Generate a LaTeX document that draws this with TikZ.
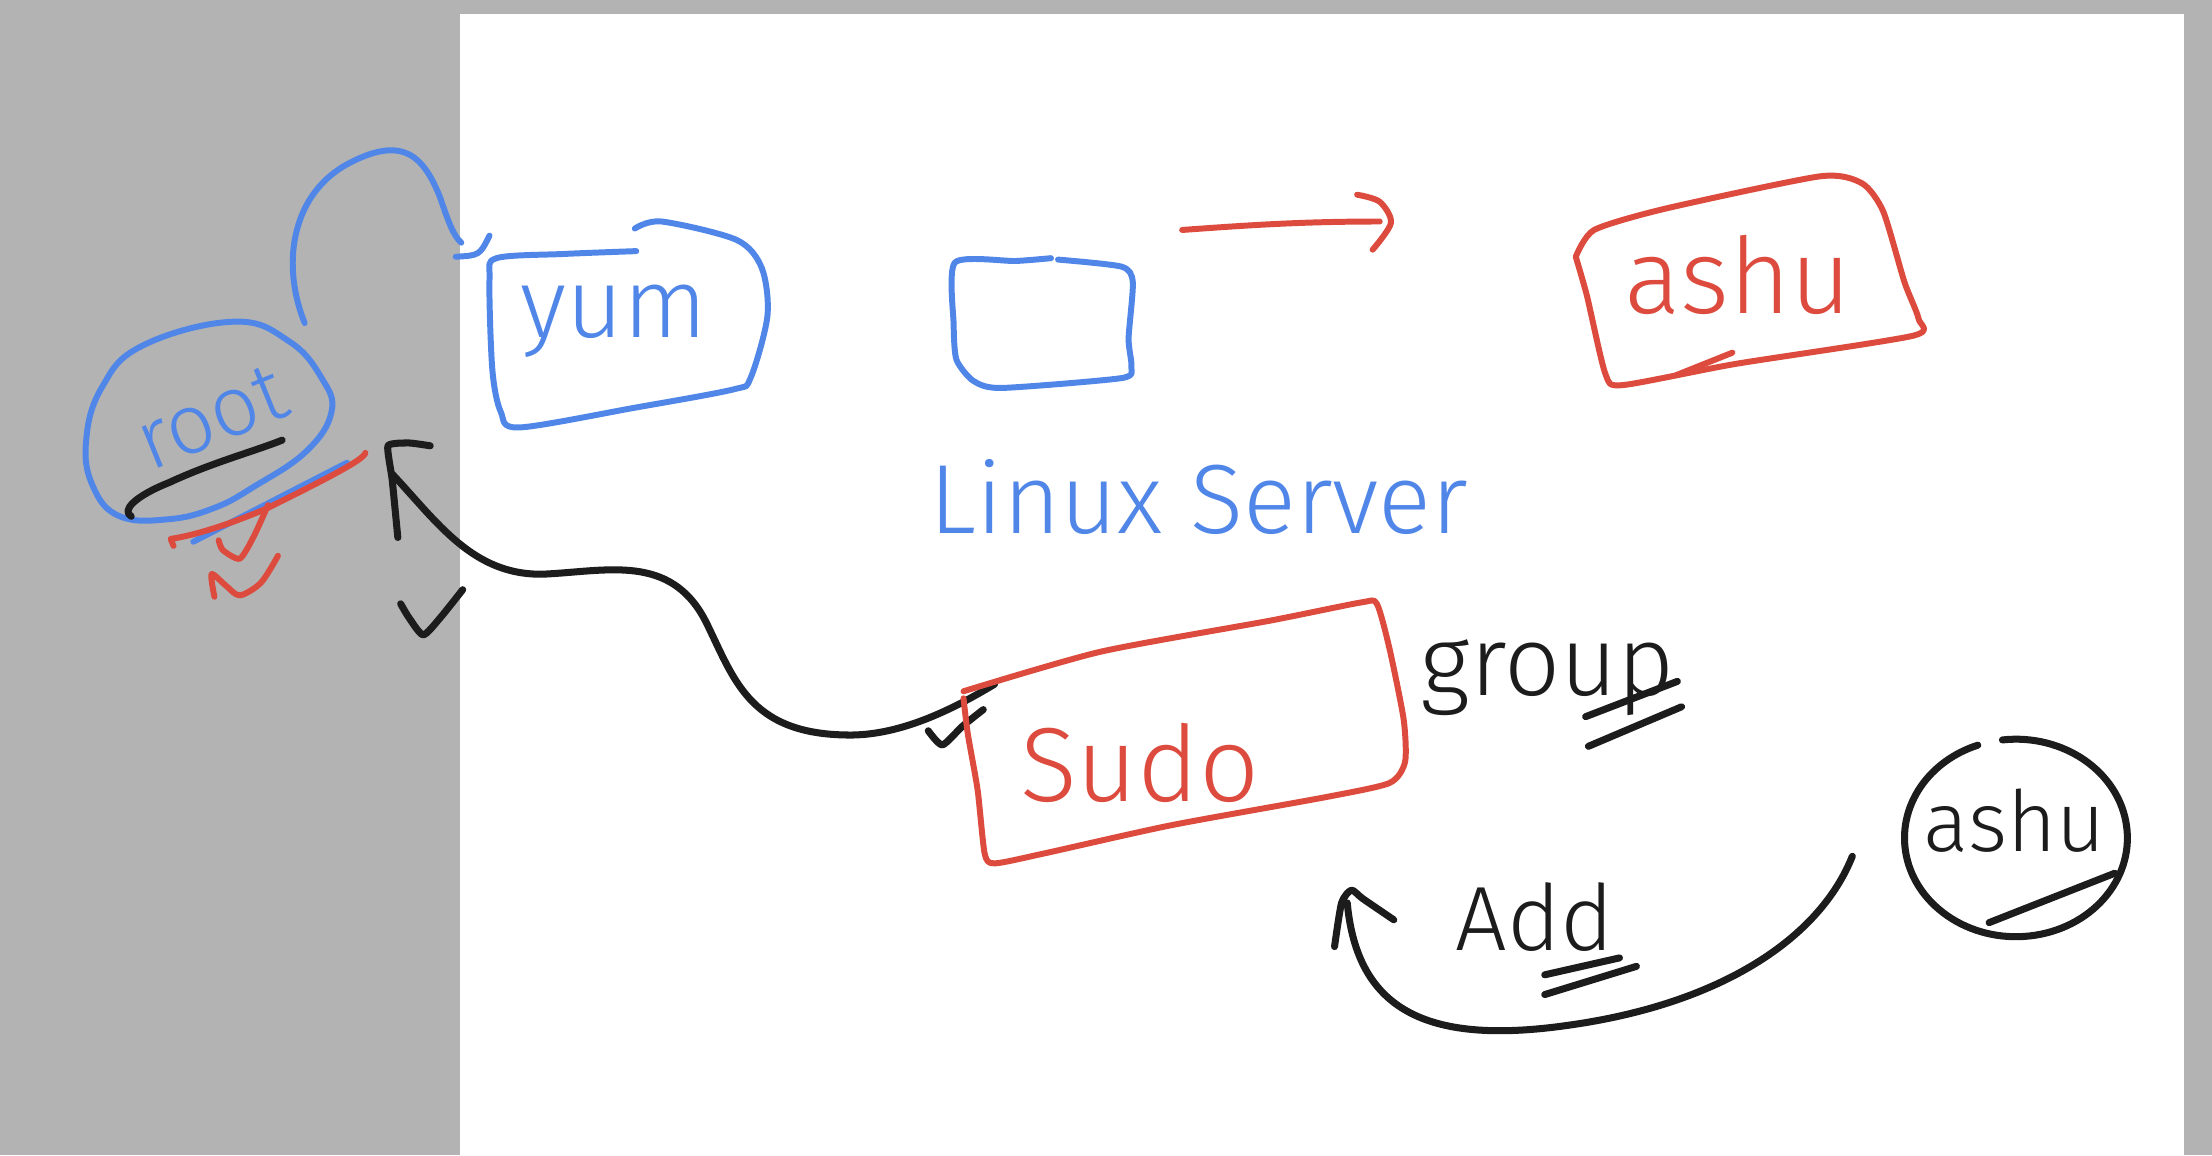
\documentclass[tikz,border=0pt]{standalone}
\usepackage{fontspec}
\setmainfont{Fira Sans}[UprightFont = * Light]
\definecolor{bggray}{HTML}{B3B3B3}
\definecolor{inkblue}{HTML}{5086E8}
\definecolor{inkred}{HTML}{DD4B3E}
\definecolor{inkblack}{HTML}{1C1C1C}
\tikzset{
  blueink/.style={draw=inkblue, line width=1.7pt, line cap=round, line join=round},
  redink/.style={draw=inkred, line width=1.7pt, line cap=round, line join=round},
  blackink/.style={draw=inkblack, line width=2pt, line cap=round, line join=round},
  hand/.style={inner sep=0pt, font=\fontsize{#1}{#1}\selectfont},
}
\begin{document}
\begin{tikzpicture}[x=0.014107cm,y=-0.014107cm]
\useasboundingbox (0,0) rectangle (1568,819);
\fill[bggray] (0,0) rectangle (1568,819);
\fill[white] (326,10) rectangle (1548,819);

% root circle
\draw[blueink] plot[smooth cycle, tension=0.7] coordinates {(101,245) (166,228) (205,242) (228,268) (235,292) (217,320) (180,345) (152,360) (120,368) (85,366) (66,345) (61,313) (72,275)};
\node[hand=24, text=inkblue, rotate=22] (root) at (150,296) {root};
\draw[blueink] (216,229) .. controls (200,190) and (205,140) .. (245,117) .. controls (285,95) and (300,110) .. (312,140) .. controls (318,158) and (322,168) .. (327,172);
\draw[blueink] (323,182) .. controls (340,181) .. (347,167);
\draw[blackink] (93,366) .. controls (86,362) and (95,352) .. (120,342) .. controls (150,328) and (180,320) .. (200,312);
\draw[blueink] (246,328) -- (137,384);
\draw[redink] (259,321) .. controls (258,326) and (230,340) .. (190,360) .. controls (160,373) and (135,380) .. (121,382) -- (123,387);
\draw[redink] plot[smooth, tension=0.4] coordinates {(155,383) (158,390) (170,396) (180,380) (190,358)};
\draw[redink] plot[smooth, tension=0.5] coordinates {(152,423) (150,407) (160,415) (170,422) (185,413) (197,394)};

% black marks near root
\draw[blackink] plot[smooth, tension=0.3] coordinates {(282,381) (278,340) (275,316) (290,314) (305,316)};
\draw[blackink] plot[smooth, tension=0.4] coordinates {(284,428) (290,438) (300,450) (312,438) (328,418)};
\coordinate (rootend) at (278,336);
\coordinate (sudoend) at (705,485);
\draw[blackink] (rootend) .. controls (310,370) and (335,408) .. (385,407) .. controls (430,405) and (475,392) .. (500,440) .. controls (520,480) and (530,520) .. (600,521) .. controls (640,522) and (680,500) .. (sudoend);
\draw[blackink] plot[smooth, tension=0.4] coordinates {(658,518) (668,528) (682,515) (697,503)};

% yum box
\draw[blueink] plot[smooth, tension=0.5] coordinates {(451,178) (400,180) (352,183) (347,198) (349,262) (355,292) (368,303) (450,289) (520,276) (532,268) (544,224) (540,190) (522,170) (469,157) (450,162)};
\node[hand=28, text=inkblue] (yum) at (435,228) {yum};

% middle blue box
\draw[blueink] plot[smooth, tension=0.4] coordinates {(745,183) (720,185) (677,186) (676,230) (678,255) (690,270) (710,275) (795,268) (802,260) (800,240) (803,200) (795,189) (750,184)};
\node[hand=28, text=inkblue] (linux) at (850,352) {Linux Server};

% red arrow
\coordinate (ra) at (838,163);
\coordinate (rb) at (978,157);
\draw[redink] (ra) .. controls (880,160) and (920,157) .. (rb);
\draw[redink] plot[smooth, tension=0.5] coordinates {(962,138) (978,143) (986,158) (973,177)};

% ashu red box
\draw[redink] plot[smooth, tension=0.4] coordinates {(1117,182) (1130,163) (1180,148) (1290,125) (1320,130) (1335,150) (1350,200) (1360,226) (1356,238) (1230,258) (1150,273) (1138,265) (1125,210) (1117,182)};
\draw[redink] (1188,266) -- (1228,250);
\node[hand=30, text=inkred] (ashured) at (1232,195) {ashu};

% sudo box
\draw[redink] plot[smooth, tension=0.4] coordinates {(683,490) (780,462) (900,440) (965,427) (976,428) (985,460) (995,510) (996,540) (985,555) (940,565) (830,585) (740,605) (705,612) (698,605) (693,560) (686,520) (683,495)};
\node[hand=30, text=inkred] (sudo) at (808,541) {Sudo};

% group
\node[hand=28, text=inkblack] (group) at (1097,480) {group};
\draw[blackink] (1124,508) -- (1189,483);
\draw[blackink] (1126,529) -- (1192,501);

% Add
\node[hand=26, text=inkblack] (add) at (1088,650) {Add};
\draw[blackink] (1095,691) -- (1148,679);
\draw[blackink] (1095,705) -- (1160,685);

% ashu black circle
\draw[blackink] (1419.4,524.5) arc[start angle=-97, end angle=250, x radius=79, y radius=70];
\draw[blackink] (1410,654) -- (1499,619);
\node[hand=24, text=inkblack] (ashublack) at (1428,582) {ashu};

% big black arrow
\coordinate (ba) at (1313,607);
\coordinate (bb) at (955,640);
\draw[blackink] (ba) .. controls (1290,665) and (1220,712) .. (1110,727) .. controls (1010,741) and (962,715) .. (bb);
\draw[blackink] plot[smooth, tension=0.4] coordinates {(946,671) (951,640) (958,631) (966,637) (988,652)};
\end{tikzpicture}
\end{document}
